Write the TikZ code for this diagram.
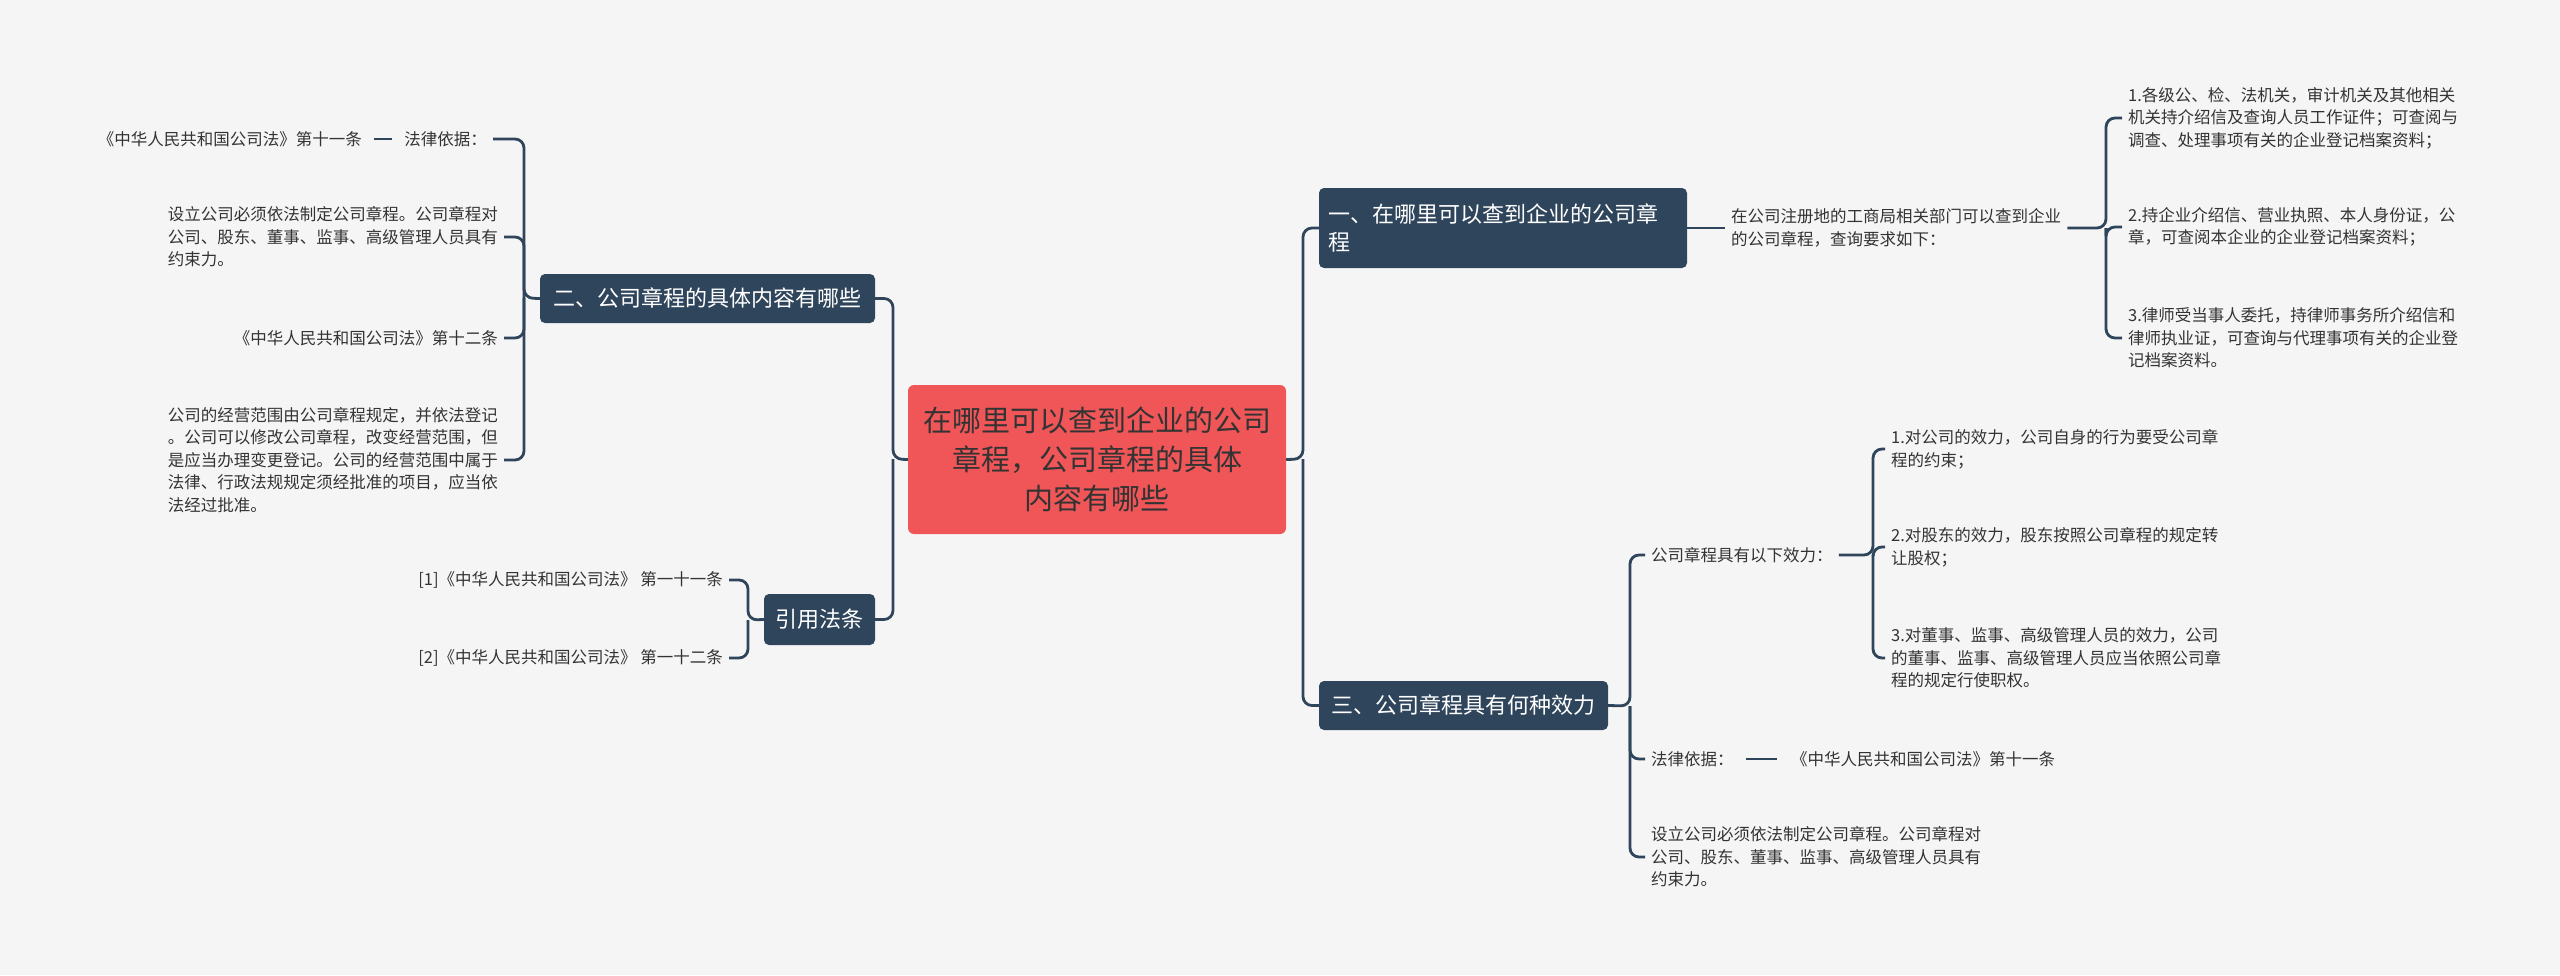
\documentclass[tikz,border=0pt]{standalone}
\usepackage{fontspec}
\setmainfont{Noto Sans CJK SC}
\definecolor{navy}{HTML}{2F455C}
\definecolor{bg}{HTML}{F5F5F5}
\definecolor{redc}{HTML}{F05658}
\definecolor{txt}{HTML}{333333}
\begin{document}
\begin{tikzpicture}[x=1pt,y=-1pt,
  conn/.style={draw=navy,line width=2.8pt,rounded corners=9pt},
  topic/.style={fill=navy,rounded corners=5pt,text=white,font=\fontsize{22}{28}\selectfont,align=left,inner sep=0pt},
  leaf/.style={text=txt,font=\fontsize{16.5}{22.6}\selectfont,inner sep=0pt,align=left},
  leafr/.style={leaf,align=right}]
\fill[bg] (0,0) rectangle (2560,975);
\useasboundingbox (0,0) rectangle (2560,975);
% center
\node[fill=redc,rounded corners=6pt,text=txt,font=\fontsize{29}{39}\selectfont,align=center,minimum width=378pt,minimum height=149pt,inner sep=0pt] (c) at (1097,459.5) {在哪里可以查到企业的公司\\章程，公司章程的具体\\内容有哪些};
% topics
\node[topic,minimum width=368pt,minimum height=80pt,text width=350pt] (b1) at (1503,228) {一、在哪里可以查到企业的公司章\\程};
\node[topic,minimum width=335pt,minimum height=49pt,align=center] (b2) at (707.5,298.5) {二、公司章程的具体内容有哪些};
\node[topic,minimum width=289pt,minimum height=49pt,align=center] (b3) at (1463.5,705.5) {三、公司章程具有何种效力};
\node[topic,minimum width=111pt,minimum height=51pt,align=center] (b4) at (819.5,619.5) {引用法条};
% branch 1
\node[leaf,anchor=west] (c1) at (1731,228) {在公司注册地的工商局相关部门可以查到企业\\的公司章程，查询要求如下：};
\node[leaf,anchor=west] (r1) at (2128,118) {1.各级公、检、法机关，审计机关及其他相关\\机关持介绍信及查询人员工作证件；可查阅与\\调查、处理事项有关的企业登记档案资料；};
\node[leaf,anchor=west] (r2) at (2128,227) {2.持企业介绍信、营业执照、本人身份证，公\\章，可查阅本企业的企业登记档案资料；};
\node[leaf,anchor=west] (r3) at (2128,338) {3.律师受当事人委托，持律师事务所介绍信和\\律师执业证，可查询与代理事项有关的企业登\\记档案资料。};
\coordinate (j1) at (2106,228);
% branch 3
\node[leaf,anchor=west] (e1) at (1651,555) {公司章程具有以下效力：};
\node[leaf,anchor=west] (e2) at (1651,759) {法律依据：};
\node[leaf,anchor=west] (e3) at (1791,759) {《中华人民共和国公司法》第十一条};
\node[leaf,anchor=west] (e4) at (1651,857) {设立公司必须依法制定公司章程。公司章程对\\公司、股东、董事、监事、高级管理人员具有\\约束力。};
\node[leaf,anchor=west] (f1) at (1891,449) {1.对公司的效力，公司自身的行为要受公司章\\程的约束；};
\node[leaf,anchor=west] (f2) at (1891,547) {2.对股东的效力，股东按照公司章程的规定转\\让股权；};
\node[leaf,anchor=west] (f3) at (1891,658) {3.对董事、监事、高级管理人员的效力，公司\\的董事、监事、高级管理人员应当依照公司章\\程的规定行使职权。};
\coordinate (j3) at (1630,706);
\coordinate (j3b) at (1873,555);
% branch 2
\node[leafr,anchor=east] (g1) at (487,139) {法律依据：};
\node[leafr,anchor=east] (g1b) at (362,139) {《中华人民共和国公司法》第十一条};
\node[leaf,anchor=east] (g2) at (498,237) {设立公司必须依法制定公司章程。公司章程对\\公司、股东、董事、监事、高级管理人员具有\\约束力。};
\node[leafr,anchor=east] (g3) at (498,338) {《中华人民共和国公司法》第十二条};
\node[leaf,anchor=east] (g4) at (498,460) {公司的经营范围由公司章程规定，并依法登记\\。公司可以修改公司章程，改变经营范围，但\\是应当办理变更登记。公司的经营范围中属于\\法律、行政法规规定须经批准的项目，应当依\\法经过批准。};
\coordinate (j2) at (524,298);
% refs
\node[leafr,anchor=east] (h1) at (723,580) {[1]《中华人民共和国公司法》 第一十一条};
\node[leafr,anchor=east] (h2) at (723,658) {[2]《中华人民共和国公司法》 第一十二条};
\coordinate (j4) at (748,620);
% spines
\coordinate (sr) at (1303,459);
\coordinate (sl) at (893,459);
\draw[conn] (c.east) -- (sr) |- (b1.west);
\draw[conn] (sr) |- (b3.west);
\draw[conn] (c.west) -- (sl) |- (b2.east);
\draw[conn] (sl) |- (b4.east);
% branch 1 lines
\draw[conn] (b1.east) -- ([xshift=-6pt]c1.west);
\draw[conn] ([xshift=6pt]c1.east) -- (j1) |- ([xshift=-6pt]r1.west);
\draw[conn] (j1) |- ([xshift=-6pt]r2.west);
\draw[conn] (j1) |- ([xshift=-6pt]r3.west);
% branch 3 lines
\draw[conn] (b3.east) -- (j3) |- ([xshift=-6pt]e1.west);
\draw[conn] (j3) |- ([xshift=-6pt]e2.west);
\draw[conn] (j3) |- ([xshift=-6pt]e4.west);
\draw[conn,shorten <=12pt,shorten >=14pt] (e2.east) -- (e3.west);
\draw[conn] ([xshift=6pt]e1.east) -- (j3b) |- ([xshift=-6pt]f1.west);
\draw[conn] (j3b) |- ([xshift=-6pt]f2.west);
\draw[conn] (j3b) |- ([xshift=-6pt]f3.west);
% branch 2 lines
\draw[conn] (b2.west) -- (j2) |- ([xshift=6pt]g1.east);
\draw[conn] (j2) |- ([xshift=6pt]g2.east);
\draw[conn] (j2) |- ([xshift=6pt]g3.east);
\draw[conn] (j2) |- ([xshift=6pt]g4.east);
\draw[conn,shorten <=12pt,shorten >=12pt] (g1.west) -- (g1b.east);
% refs lines
\draw[conn] (b4.west) -- (j4) |- ([xshift=6pt]h1.east);
\draw[conn] (j4) |- ([xshift=6pt]h2.east);
\end{tikzpicture}
\end{document}
